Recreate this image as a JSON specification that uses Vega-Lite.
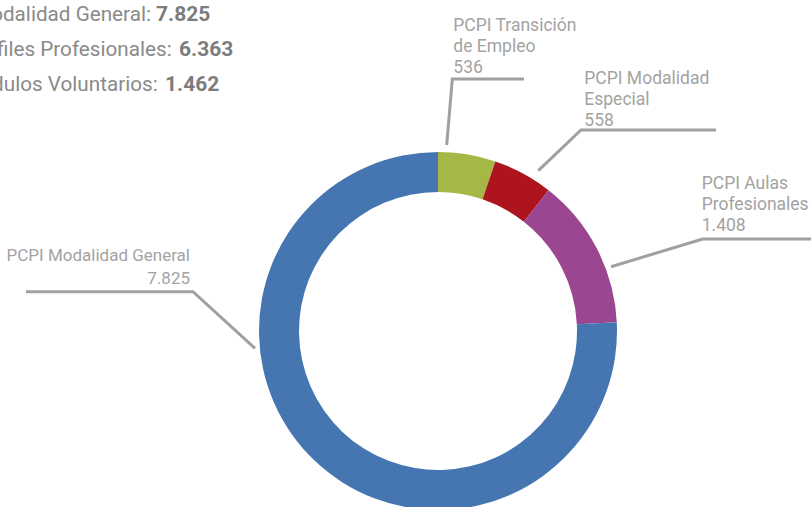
{
  "$schema": "https://vega.github.io/schema/vega-lite/v6.json",
  "width": 811,
  "height": 507,
  "autosize": {"type": "none"},
  "padding": 0,
  "background": "white",
  "config": {"view": {"stroke": null}},
  "datasets": {
    "slices": [
      {"name": "PCPI Transición de Empleo", "value": 536, "idx": 1},
      {"name": "PCPI Modalidad Especial", "value": 558, "idx": 2},
      {"name": "PCPI Aulas Profesionales", "value": 1408, "idx": 3},
      {"name": "PCPI Modalidad General", "value": 7825, "idx": 4}
    ],
    "leaders": [
      {"seg": "a", "ord": 1, "x": 8.7, "y": 186},
      {"seg": "a", "ord": 2, "x": 14.3, "y": 252},
      {"seg": "a", "ord": 3, "x": 86, "y": 252},
      {"seg": "b", "ord": 1, "x": 100.3, "y": 160.3},
      {"seg": "b", "ord": 2, "x": 143, "y": 201},
      {"seg": "b", "ord": 3, "x": 278, "y": 201},
      {"seg": "c", "ord": 1, "x": 173, "y": 64.3},
      {"seg": "c", "ord": 2, "x": 264.7, "y": 92},
      {"seg": "c", "ord": 3, "x": 373, "y": 92},
      {"seg": "d", "ord": 1, "x": -183, "y": -17.3},
      {"seg": "d", "ord": 2, "x": -245, "y": 39.3},
      {"seg": "d", "ord": 3, "x": -412, "y": 39.3}
    ],
    "labels": [
      {"txt": "PCPI Transición\nde Empleo\n536", "x": 15.3, "y": 300.3},
      {"txt": "PCPI Modalidad\nEspecial\n558", "x": 146.3, "y": 247},
      {"txt": "PCPI Aulas\nProfesionales\n1.408", "x": 263.7, "y": 142}
    ],
    "labelsRight": [
      {"txt": "PCPI Modalidad General\n7.825", "x": -248, "y": 70}
    ],
    "summary": [
      {"label": "Modalidad General:", "num": "7.825", "xc": -287, "xn": -282, "y": 310.3},
      {"label": "Perfiles Profesionales:", "num": "6.363", "xc": -266.3, "xn": -259, "y": 275.3},
      {"label": "Módulos Voluntarios:", "num": "1.462", "xc": -280.3, "xn": -273, "y": 240.3}
    ]
  },
  "layer": [
    {
      "data": {"name": "slices"},
      "mark": {"type": "arc", "innerRadius": 139, "outerRadius": 179},
      "encoding": {
        "x": {"datum": 0, "type": "quantitative", "scale": {"domain": [-438, 373], "nice": false, "zero": false}, "axis": null},
        "y": {"datum": 0, "type": "quantitative", "scale": {"domain": [-176, 331], "nice": false, "zero": false}, "axis": null},
        "theta": {"field": "value", "type": "quantitative", "stack": true},
        "order": {"field": "idx", "type": "quantitative"},
        "color": {
          "field": "name",
          "type": "nominal",
          "legend": null,
          "scale": {
            "domain": ["PCPI Transición de Empleo", "PCPI Modalidad Especial", "PCPI Aulas Profesionales", "PCPI Modalidad General"],
            "range": ["#A5B846", "#AE141E", "#9B4690", "#4676B1"]
          }
        }
      }
    },
    {
      "data": {"name": "leaders"},
      "mark": {"type": "line", "color": "#A0A0A0", "strokeWidth": 3, "strokeCap": "butt"},
      "encoding": {
        "x": {"field": "x", "type": "quantitative", "axis": null},
        "y": {"field": "y", "type": "quantitative", "axis": null},
        "detail": {"field": "seg"},
        "order": {"field": "ord", "type": "quantitative"}
      }
    },
    {
      "data": {"name": "labels"},
      "mark": {"type": "text", "align": "left", "baseline": "alphabetic", "lineBreak": "\n", "lineHeight": 21, "font": "Roboto", "fontSize": 17.5, "color": "#A3A3A3"},
      "encoding": {
        "x": {"field": "x", "type": "quantitative", "axis": null},
        "y": {"field": "y", "type": "quantitative", "axis": null},
        "text": {"field": "txt"}
      }
    },
    {
      "data": {"name": "labelsRight"},
      "mark": {"type": "text", "align": "right", "baseline": "alphabetic", "lineBreak": "\n", "lineHeight": 23, "font": "Roboto", "fontSize": 17, "color": "#A3A3A3"},
      "encoding": {
        "x": {"field": "x", "type": "quantitative", "axis": null},
        "y": {"field": "y", "type": "quantitative", "axis": null},
        "text": {"field": "txt"}
      }
    },
    {
      "data": {"name": "summary"},
      "mark": {"type": "text", "align": "right", "baseline": "alphabetic", "font": "Roboto", "fontSize": 20.7, "color": "#8A8A8A"},
      "encoding": {
        "x": {"field": "xc", "type": "quantitative", "axis": null},
        "y": {"field": "y", "type": "quantitative", "axis": null},
        "text": {"field": "label"}
      }
    },
    {
      "data": {"name": "summary"},
      "mark": {"type": "text", "align": "left", "baseline": "alphabetic", "font": "Roboto", "fontSize": 21, "fontWeight": "bold", "color": "#7C7C7C"},
      "encoding": {
        "x": {"field": "xn", "type": "quantitative", "axis": null},
        "y": {"field": "y", "type": "quantitative", "axis": null},
        "text": {"field": "num"}
      }
    }
  ]
}
